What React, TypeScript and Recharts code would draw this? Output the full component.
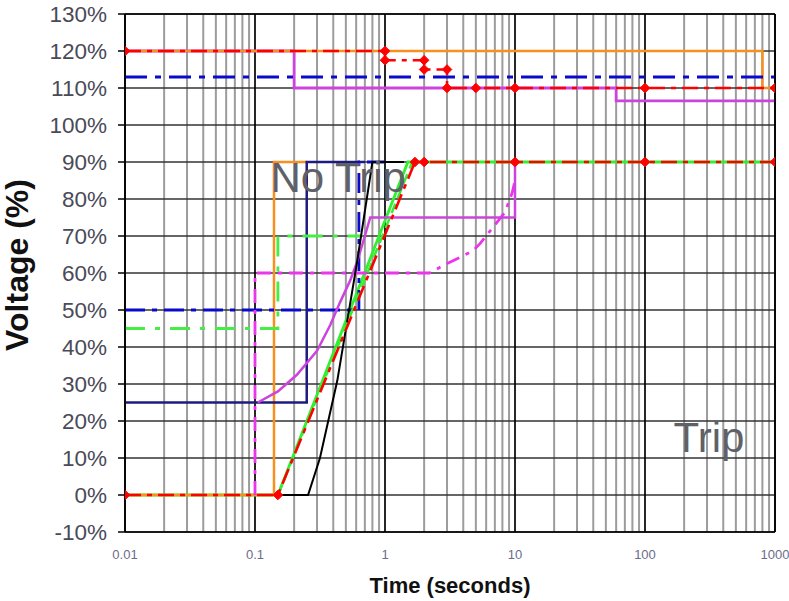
import React from "react";
import { LineChart, Line, XAxis, YAxis, ReferenceLine, ReferenceDot, Label } from "recharts";

// ---- axis ticks ----
const xDecades = [0.01, 0.1, 1, 10, 100, 1000];
const minorMultipliers = [2, 3, 4, 5, 6, 7, 8, 9];
const yTicks = [-10, 0, 10, 20, 30, 40, 50, 60, 70, 80, 90, 100, 110, 120, 130];

// ---- series ----
const orangeTop = [
  { x: 0.01, y: 120 }, { x: 800, y: 120 }, { x: 800, y: 110 }, { x: 1000, y: 110 },
];
const orangeLow = [
  { x: 0.01, y: 0 }, { x: 0.14, y: 0 }, { x: 0.14, y: 90 }, { x: 0.25, y: 90 },
];
const magentaTop = [
  { x: 0.01, y: 120 }, { x: 0.2, y: 120 }, { x: 0.2, y: 110 }, { x: 60, y: 110 },
  { x: 60, y: 106.5 }, { x: 1000, y: 106.5 },
];
const blueTop = [{ x: 0.01, y: 113 }, { x: 1000, y: 113 }];
const redTop = [
  { x: 0.01, y: 120 }, { x: 1, y: 120 }, { x: 1, y: 117.5 }, { x: 2, y: 117.5 },
  { x: 2, y: 115 }, { x: 3, y: 115 }, { x: 3, y: 110 }, { x: 5, y: 110 },
  { x: 10, y: 110 }, { x: 100, y: 110 }, { x: 1000, y: 110 },
];
const navyLow = [
  { x: 0.01, y: 25 }, { x: 0.25, y: 25 }, { x: 0.25, y: 90 }, { x: 0.7, y: 90 },
];
const blueLow = [
  { x: 0.01, y: 50 }, { x: 0.63, y: 50 }, { x: 0.63, y: 90 }, { x: 1, y: 90 },
];
const greenStep = [
  { x: 0.01, y: 45 }, { x: 0.15, y: 45 }, { x: 0.15, y: 70 }, { x: 0.67, y: 70 },
];
const magentaCurve = [
  { x: 0.105, y: 25 }, { x: 0.15, y: 28 }, { x: 0.21, y: 32.5 }, { x: 0.3, y: 39 },
  { x: 0.38, y: 46 }, { x: 0.45, y: 52 }, { x: 0.54, y: 58 }, { x: 0.61, y: 63 },
  { x: 0.7, y: 70 }, { x: 0.77, y: 75 }, { x: 10, y: 75 }, { x: 10, y: 90 },
];
const magentaDash = [
  { x: 0.1, y: 0 }, { x: 0.1, y: 60 }, { x: 2.2, y: 60 }, { x: 2.8, y: 62 },
  { x: 3.8, y: 64.3 }, { x: 4.75, y: 66 }, { x: 5.4, y: 68 }, { x: 6.8, y: 72.4 },
  { x: 8.4, y: 76.5 }, { x: 9.5, y: 81.6 }, { x: 10, y: 85 },
];
const blackLow = [
  { x: 0.15, y: 0 }, { x: 0.256, y: 0 }, { x: 0.316, y: 10 }, { x: 0.43, y: 31 },
  { x: 0.61, y: 63 }, { x: 0.8, y: 90 }, { x: 1.4, y: 90 },
];
const greenLow = [
  { x: 0.01, y: 0 }, { x: 0.15, y: 0 }, { x: 1.5, y: 90 }, { x: 1000, y: 90 },
];
const greenDash = [{ x: 0.15, y: 0 }, { x: 1.62, y: 90 }];
const redLow = [
  { x: 0.01, y: 0 }, { x: 0.15, y: 0 }, { x: 1.7, y: 90 }, { x: 2, y: 90 },
  { x: 10, y: 90 }, { x: 100, y: 90 }, { x: 1000, y: 90 },
];

const annotations = [
  { x: 0.1315, y: 82, text: "No Trip" },
  { x: 166, y: 11.6, text: "Trip" },
];

const minorTicks = xDecades.slice(0, 5).flatMap((d) =>
  minorMultipliers.map((m) => Number((d * m).toPrecision(3)))
);

const FONT = "'Liberation Sans', Arial, sans-serif";

const Diamond = (props: any) => {
  const { cx, cy, index } = props;
  if (cx == null || cy == null) return <g key={`e-${index}`} />;
  const r = 4.8;
  return (
    <polygon
      key={`dm-${index}-${cx}-${cy}`}
      points={`${cx},${cy - r} ${cx + r},${cy} ${cx},${cy + r} ${cx - r},${cy}`}
      fill="#FF0000"
      stroke="#FF0000"
      strokeWidth={1}
    />
  );
};

export default function App() {
  return (
    <div style={{ position: "absolute", left: 0, top: 0, background: "#fff" }}>
      <LineChart
        width={789}
        height={601}
        margin={{ top: 14, right: 14, bottom: 0, left: 0 }}
        style={{ fontFamily: FONT }}
      >
        <XAxis
          dataKey="x"
          type="number"
          scale="log"
          domain={[0.01, 1000]}
          ticks={xDecades}
          allowDataOverflow
          height={69}
          tickLine={false}
          tickSize={6}
          tickMargin={12}
          axisLine={{ stroke: "#000", strokeWidth: 1.6 }}
          tick={{ fontSize: 13, fill: "#6c6c8a", fontFamily: FONT }}
          tickFormatter={(v: number) => String(v)}
        >
          <Label
            content={(p: any) => {
              const vb = p.viewBox || {};
              return (
                <text
                  x={vb.x + vb.width / 2}
                  y={vb.y + 61}
                  textAnchor="middle"
                  fontFamily={FONT}
                  fontWeight="bold"
                  fontSize={22}
                  fill="#111"
                >
                  Time (seconds)
                </text>
              );
            }}
          />
        </XAxis>
        <YAxis
          type="number"
          domain={[-10, 130]}
          ticks={yTicks}
          width={125}
          allowDataOverflow
          tickSize={7}
          tickMargin={11}
          axisLine={{ stroke: "#000", strokeWidth: 1.6 }}
          tickLine={{ stroke: "#000", strokeWidth: 1.5 }}
          tick={{ fontSize: 22.5, fill: "#4a4a58", fontFamily: FONT }}
          tickFormatter={(v: number) => `${v}%`}
        >
          <Label
            content={() => (
              <text
                x={28}
                y={265}
                transform="rotate(-90, 28, 265)"
                textAnchor="middle"
                fontFamily={FONT}
                fontWeight="bold"
                fontSize={32}
                fill="#111"
              >
                Voltage (%)
              </text>
            )}
          />
        </YAxis>

        {minorTicks.map((v) => (
          <ReferenceLine key={`mx-${v}`} x={v} stroke="#9c9c9c" strokeWidth={2} />
        ))}
        {yTicks.map((v) => (
          <ReferenceLine key={`gy-${v}`} y={v} stroke="#333" strokeWidth={1.6} />
        ))}
        {xDecades.map((v) => (
          <ReferenceLine key={`gx-${v}`} x={v} stroke="#000" strokeWidth={1.7} />
        ))}

        <Line data={greenLow} dataKey="y" stroke="#33EE33" strokeWidth={2.8} dot={false} isAnimationActive={false} />
        <Line data={magentaTop} dataKey="y" stroke="#CC44DD" strokeWidth={2.8} dot={false} isAnimationActive={false} />
        <Line data={orangeTop} dataKey="y" stroke="#F7901E" strokeWidth={2.5} dot={false} isAnimationActive={false} />
        <Line data={orangeLow} dataKey="y" stroke="#F7901E" strokeWidth={2.5} dot={false} isAnimationActive={false} />
        <Line data={navyLow} dataKey="y" stroke="#1C1C80" strokeWidth={2.5} dot={false} isAnimationActive={false} />
        <Line data={blueLow} dataKey="y" stroke="#0A0ACC" strokeWidth={2.8} strokeDasharray="20 7 5 7" dot={false} isAnimationActive={false} />
        <Line data={greenStep} dataKey="y" stroke="#44EE44" strokeWidth={2.8} strokeDasharray="20 10 5 10" dot={false} isAnimationActive={false} />
        <Line data={magentaDash} dataKey="y" stroke="#EE33EE" strokeWidth={2.8} strokeDasharray="14 7 4 7" dot={false} isAnimationActive={false} />
        <Line data={magentaCurve} dataKey="y" stroke="#CC44DD" strokeWidth={2.5} dot={false} isAnimationActive={false} />
        <Line data={blackLow} dataKey="y" stroke="#000" strokeWidth={2} dot={false} isAnimationActive={false} />
        <Line data={greenDash} dataKey="y" stroke="#33EE33" strokeWidth={2.5} strokeDasharray="10 6" dot={false} isAnimationActive={false} />
        <Line data={redTop} dataKey="y" stroke="#FF0000" strokeWidth={2.6} strokeDasharray="16 6 5 6" dot={<Diamond />} isAnimationActive={false} />
        <Line data={redLow} dataKey="y" stroke="#FF0000" strokeWidth={2.6} strokeDasharray="16 6 5 6" dot={<Diamond />} isAnimationActive={false} />
        <Line data={blueTop} dataKey="y" stroke="#0A0ACC" strokeWidth={3} strokeDasharray="22 8 6 8" dot={false} isAnimationActive={false} />

        <ReferenceLine y={130} stroke="#000" strokeWidth={1.6} />
        <ReferenceLine x={1000} stroke="#000" strokeWidth={1.6} />

        {annotations.map((a) => (
          <ReferenceDot
            key={a.text}
            x={a.x}
            y={a.y}
            r={0}
            ifOverflow="visible"
            shape={(p: any) => (
              <text
                x={p.cx}
                y={p.cy}
                fontFamily={FONT}
                fontSize={42}
                fill="#5f6166"
              >
                {a.text}
              </text>
            )}
          />
        ))}
      </LineChart>
    </div>
  );
}
